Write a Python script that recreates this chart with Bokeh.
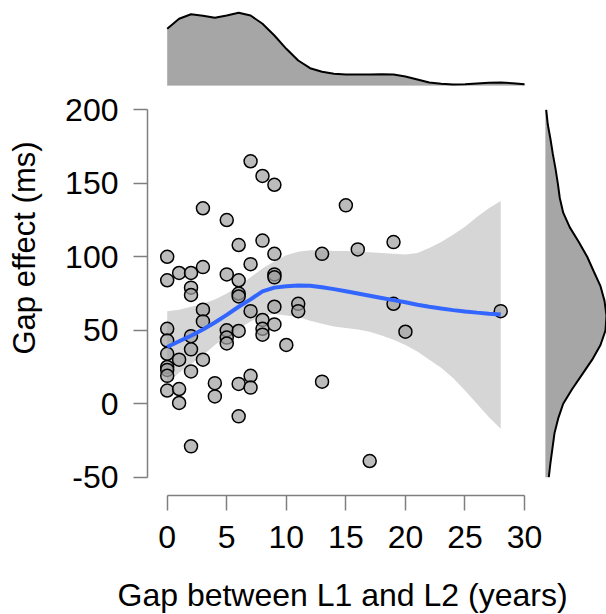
from bokeh.plotting import figure
from bokeh.models import Range1d, FixedTicker, Title
from bokeh.embed import file_html
from bokeh.resources import INLINE

# ---- data ----
gap_years = [0, 0, 0, 0, 0, 0, 0, 0, 0,
             1, 1, 1, 1,
             2, 2, 2, 2, 2, 2, 2,
             3, 3, 3, 3, 3,
             4, 4,
             5, 5, 5, 5, 5,
             6, 6, 6, 6, 6, 6, 6,
             7, 7, 7, 7, 7,
             8, 8, 8, 8, 8,
             9, 9, 9, 9, 9, 9,
             10, 11, 11, 13, 13, 15, 16, 17, 19, 19, 20, 28]
gap_effect = [100, 84, 51, 43, 34, 25, 23, 19, 9,
              89, 30, 10, 0.5,
              89, 79, 74, 46, 37, 22, -29,
              133, 93, 64, 56, 30,
              14, 5,
              125, 88, 50, 45, 41,
              108, 84, 75, 73, 49.5, 13.5, -8.6,
              165, 95, 63, 19, 11,
              155, 111, 57, 51, 47,
              149, 102, 88, 86, 66, 54,
              40, 68, 63, 102, 15, 135, 105, -39, 110, 68, 49, 63]

fit_x = list(range(0, 29))
fit_y = [38.6, 42.5, 46.3, 50.5, 55.3, 60.5, 66, 71, 76.5, 79, 80, 80.5, 80.3, 79.3,
         78, 76.5, 75, 73.5, 72, 70.5, 69, 67.4, 66, 64.8, 63.7, 62.8, 62, 61.3, 60.8]
band_upper = [63, 64, 66, 68, 71, 75, 80, 86, 92, 97, 101, 103.5, 104.5, 104.5, 104,
              104, 103.5, 103, 102.5, 102, 101.5, 102.5, 106, 110, 115, 120.5, 127, 133, 138]
band_lower = [14, 21, 27, 33, 40, 46, 51, 56, 60, 61, 60, 59, 56.5, 54.5, 52.5,
              51.5, 50.5, 49, 46.5, 43.5, 40, 35.5, 30, 24.5, 17.5, 9, 0, -9, -17]

# marginal densities (heights, in pixels)
top_dens_x = list(range(0, 31))
top_dens = [56.7, 66.7, 71.3, 69.7, 67.7, 70, 72.7, 70, 61.7, 50, 36.7, 25, 17.3, 13.7,
            11.7, 11, 11, 11, 11.3, 11, 9, 6, 3, 1.7, 1, 1.3, 2, 2.7, 3, 2.3, 1.3]

right_dens_y = list(range(200, -60, -10))
right_dens = [0.7, 2.3, 5, 7.3, 10, 12.3, 14.3, 17.7, 24.3, 33.3, 41.7, 48.3, 55, 59,
              61, 60, 55, 46.7, 36.7, 26.7, 17.7, 12.7, 9, 7, 5, 3.3]

x_ticks = [0, 5, 10, 15, 20, 25, 30]
y_ticks = [-50, 0, 50, 100, 150, 200]
y_tick_labels = ["-50", "0", "50", "100", "150", "200"]
x_title = "Gap between L1 and L2 (years)"
y_title = "Gap effect (ms)"

FONT = "Liberation Sans"
AXIS_GREY = "#7f7f7f"
DENS_FILL = "#a6a6a6"

p = figure(width=606, height=614, output_backend="svg", toolbar_location=None,
           x_range=Range1d(-1.654, 36.88), y_range=Range1d(-62.45, 274.4),
           min_border_left=147, min_border_right=0, min_border_top=0,
           min_border_bottom=119)
p.outline_line_color = None
p.grid.visible = False
p.background_fill_color = "white"
p.extra_y_ranges = {"topd": Range1d(-410, 85)}
p.extra_x_ranges = {"rightd": Range1d(-398, 61)}

# main panel
p.varea(x=fit_x, y1=band_lower, y2=band_upper, fill_color="#d6d6d6", fill_alpha=1.0)
p.scatter(gap_years, gap_effect, size=13, fill_color="#a0a0a0", fill_alpha=0.7,
          line_color="black", line_width=1.5)
p.line(fit_x, fit_y, line_color="#3366ff", line_width=4)

# top marginal density
p.varea(x=top_dens_x, y1=0, y2=top_dens, fill_color=DENS_FILL, y_range_name="topd")
p.line(x=[top_dens_x[0], top_dens_x[-1]], y=[0, 0], line_color="#c8c8c8", line_width=1,
       y_range_name="topd")
p.line(top_dens_x, top_dens, line_color="black", line_width=2, y_range_name="topd")

# right marginal density
p.harea(y=right_dens_y, x1=0, x2=right_dens, fill_color=DENS_FILL, x_range_name="rightd")
p.line(x=[0, 0], y=[right_dens_y[0], right_dens_y[-1]], line_color="#c8c8c8", line_width=1,
       x_range_name="rightd")
p.line(right_dens, right_dens_y, line_color="black", line_width=2, x_range_name="rightd")

for ax in (p.xaxis[0], p.yaxis[0]):
    ax.axis_line_color = AXIS_GREY
    ax.major_tick_line_color = AXIS_GREY
    ax.axis_line_width = 1.5
    ax.major_tick_line_width = 1.5
    ax.minor_tick_line_color = None
    ax.major_tick_in = 0
    ax.major_label_text_font = FONT
    ax.major_label_text_color = "black"
    ax.axis_label_text_font = FONT
    ax.axis_label_text_font_style = "normal"
    ax.axis_label_text_color = "black"

xa = p.xaxis[0]
xa.ticker = FixedTicker(ticks=x_ticks)
xa.bounds = (0, 30)
xa.major_tick_out = 15
xa.major_label_standoff = 15
xa.major_label_text_font_size = "32px"
# blank spacer label: only adds room between the tick labels and the x title
xa.axis_label = " "
xa.axis_label_text_font_size = "1px"
xa.axis_label_text_alpha = 0
xa.axis_label_standoff = 22

ya = p.yaxis[0]
ya.ticker = FixedTicker(ticks=y_ticks)
ya.major_label_overrides = dict(zip(y_ticks, y_tick_labels))
ya.bounds = (-50, 200)
ya.major_tick_out = 14
ya.major_label_standoff = 15
ya.major_label_text_font_size = "32px"
ya.axis_label = y_title
ya.axis_label_text_font_size = "31px"
ya.axis_label_standoff = 20

# x-axis title, left-aligned so that it sits centred under the axis as in R
xt = Title(text=x_title, align="left", offset=-30, vertical_align="top", standoff=0,
           text_font=FONT, text_font_size="32px", text_font_style="normal",
           text_color="black")
p.add_layout(xt, "below")

open("out.html", "w").write(file_html(p, INLINE))
